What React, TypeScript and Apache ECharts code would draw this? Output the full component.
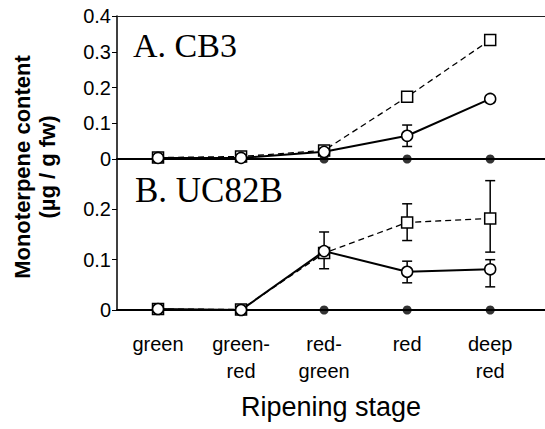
import React, { useEffect, useRef } from 'react';
import * as echarts from 'echarts';

const stages = ['green', 'green-\nred', 'red-\ngreen', 'red', 'deep\nred'];
const stageIndex = [0, 1, 2, 3, 4];

// Panel A. CB3
const cb3Square = [0.004, 0.007, 0.024, 0.174, 0.333];
const cb3Circle = [0.003, 0.003, 0.02, 0.065, 0.168];
const cb3Filled = [0, 0, 0, 0, 0];
const cb3CircleErrLow = [null, null, null, 0.035, null];
const cb3CircleErrHigh = [null, null, null, 0.095, null];

// Panel B. UC82B
const ucSquare = [0.002, 0.001, 0.113, 0.174, 0.182];
const ucCircle = [0.002, 0.0, 0.117, 0.076, 0.081];
const ucFilled = [0, 0, 0, 0, 0];
const ucSquareErrLow = [null, null, null, 0.138, 0.115];
const ucSquareErrHigh = [null, null, null, 0.211, 0.257];
const ucCircleErrLow = [null, null, 0.082, 0.054, 0.046];
const ucCircleErrHigh = [null, null, 0.155, 0.097, 0.1];

const topTickMax = 0.4;
const bottomTickMax = 0.3;
const tickInterval = 0.1;

const SANS = '"Liberation Sans", Arial, sans-serif';
const SERIF = '"Liberation Serif", "Times New Roman", serif';

const pairs = (vals: number[]) => vals.map((v, i) => [stageIndex[i], v]);
const errPairs = (lo: (number | null)[], hi: (number | null)[]) =>
  lo
    .map((l, i) => (l == null || hi[i] == null ? null : [stageIndex[i], l, hi[i]]))
    .filter((d) => d !== null);

const renderErr = (params: any, api: any) => {
  const x = api.value(0);
  const lo = api.coord([x, api.value(1)]);
  const hi = api.coord([x, api.value(2)]);
  const w = 5;
  const style = { stroke: '#000', lineWidth: 1.5 };
  return {
    type: 'group',
    children: [
      { type: 'line', shape: { x1: lo[0], y1: lo[1], x2: hi[0], y2: hi[1] }, style },
      { type: 'line', shape: { x1: lo[0] - w, y1: lo[1], x2: lo[0] + w, y2: lo[1] }, style },
      { type: 'line', shape: { x1: hi[0] - w, y1: hi[1], x2: hi[0] + w, y2: hi[1] }, style },
    ],
  };
};

const X_MIN = -0.494;
const X_MAX = 4.66;

function panelSeries(
  gi: number,
  xi: number,
  sq: number[],
  ci: number[],
  fi: number[],
  errs: any[][]
) {
  const out: any[] = [];
  errs.forEach((e) => {
    out.push({
      type: 'custom',
      xAxisIndex: xi,
      yAxisIndex: gi,
      renderItem: renderErr,
      encode: { x: 0, y: [1, 2] },
      data: e,
      z: 1,
      silent: true,
    });
  });
  out.push({
    type: 'scatter',
    xAxisIndex: xi,
    yAxisIndex: gi,
    data: pairs(fi),
    symbol: 'circle',
    symbolSize: 9,
    itemStyle: { color: '#000' },
    z: 2,
    clip: false,
  });
  out.push({
    type: 'line',
    xAxisIndex: xi,
    yAxisIndex: gi,
    data: pairs(sq),
    symbol: 'rect',
    symbolSize: 11,
    itemStyle: { color: '#fff', borderColor: '#000', borderWidth: 1.5 },
    lineStyle: { color: '#000', width: 1.3, type: [6, 4] },
    z: 3,
    clip: false,
  });
  out.push({
    type: 'line',
    xAxisIndex: xi,
    yAxisIndex: gi,
    data: pairs(ci),
    symbol: 'circle',
    symbolSize: 11,
    itemStyle: { color: '#fff', borderColor: '#000', borderWidth: 1.5 },
    lineStyle: { color: '#000', width: 2 },
    z: 4,
    clip: false,
  });
  return out;
}

export default function App() {
  const ref = useRef<HTMLDivElement>(null);
  useEffect(() => {
    if (!ref.current) return;
    const chart = echarts.init(ref.current, undefined, { renderer: 'svg' });
    const yLabelFmt = (v: number) => (v === 0 ? '0' : v.toFixed(1));
    const yAxisBase = {
      type: 'value',
      min: 0,
      interval: tickInterval,
      axisLine: { show: true, onZero: false, lineStyle: { color: '#000', width: 1.5 } },
      axisTick: { show: true, inside: false, length: 5, lineStyle: { color: '#000', width: 1 } },
      axisLabel: { color: '#000', fontSize: 20, fontFamily: SANS, margin: 6, formatter: yLabelFmt },
      splitLine: { show: false },
    };
    chart.setOption({
      animation: false,
      backgroundColor: '#fff',
      grid: [
        { left: 117, right: 0, top: 16, height: 143 },
        { left: 117, right: 0, top: 159, height: 151 },
      ],
      xAxis: [
        {
          gridIndex: 0,
          type: 'value',
          min: X_MIN,
          max: X_MAX,
          position: 'bottom',
          axisLine: { onZero: false, lineStyle: { color: '#000', width: 2 } },
          axisTick: { show: false },
          axisLabel: { show: false },
          splitLine: { show: false },
        },
        {
          gridIndex: 0,
          type: 'value',
          min: X_MIN,
          max: X_MAX,
          position: 'top',
          axisLine: { onZero: false, lineStyle: { color: '#222', width: 1 } },
          axisTick: { show: false },
          axisLabel: { show: false },
          splitLine: { show: false },
        },
        {
          gridIndex: 1,
          type: 'value',
          min: X_MIN,
          max: X_MAX,
          position: 'bottom',
          axisLine: { onZero: false, lineStyle: { color: '#000', width: 2 } },
          axisTick: { show: false },
          axisLabel: {
            customValues: stageIndex,
            formatter: (v: number) => stages[Math.round(v)] ?? '',
            color: '#000',
            fontSize: 20,
            lineHeight: 27,
            fontFamily: SANS,
            margin: 20,
            align: 'center',
          },
          splitLine: { show: false },
          name: 'Ripening stage',
          nameLocation: 'middle',
          nameGap: 83,
          nameTextStyle: { color: '#000', fontSize: 27, fontFamily: SANS },
        },
      ],
      yAxis: [
        { ...yAxisBase, gridIndex: 0, max: topTickMax },
        {
          ...yAxisBase,
          gridIndex: 1,
          max: bottomTickMax,
          axisLabel: { ...yAxisBase.axisLabel, showMaxLabel: false },
        },
      ],
      graphic: [
        {
          type: 'text',
          x: 133,
          y: 45,
          style: {
            text: 'A. CB3',
            font: `34px ${SERIF}`,
            fill: '#000',
            textAlign: 'left',
            textVerticalAlign: 'middle',
          },
        },
        {
          type: 'text',
          x: 135,
          y: 190,
          style: {
            text: 'B. UC82B',
            font: `35px ${SERIF}`,
            fill: '#000',
            textAlign: 'left',
            textVerticalAlign: 'middle',
          },
        },
        {
          type: 'text',
          x: 35,
          y: 167,
          rotation: Math.PI / 2,
          style: {
            text: 'Monoterpene content\n(µg / g fw)',
            font: `bold 22px ${SANS}`,
            lineHeight: 25,
            fill: '#000',
            textAlign: 'center',
            textVerticalAlign: 'middle',
          },
        },
      ],
      series: [
        ...panelSeries(0, 0, cb3Square, cb3Circle, cb3Filled, [errPairs(cb3CircleErrLow, cb3CircleErrHigh)]),
        ...panelSeries(1, 2, ucSquare, ucCircle, ucFilled, [
          errPairs(ucSquareErrLow, ucSquareErrHigh),
          errPairs(ucCircleErrLow, ucCircleErrHigh),
        ]),
      ],
    });
    return () => chart.dispose();
  }, []);
  return (
    <div
      ref={ref}
      style={{ position: 'fixed', left: 0, top: 0, width: 545, height: 429, background: '#fff' }}
    />
  );
}
